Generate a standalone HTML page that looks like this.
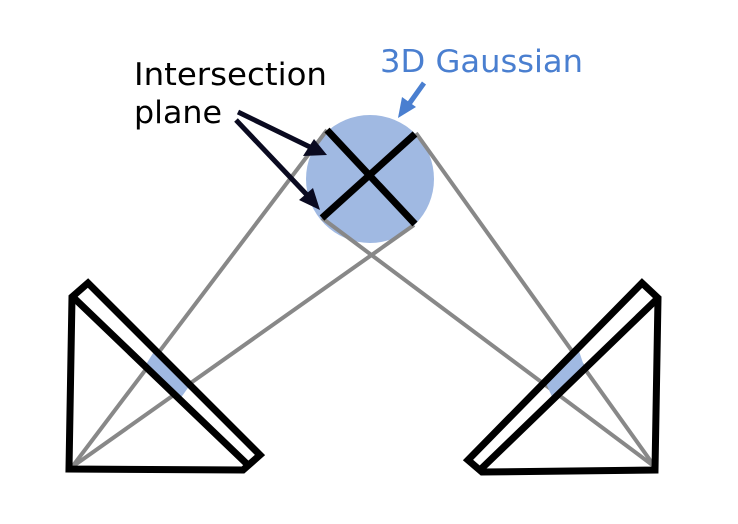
<!DOCTYPE html>
<html><head><style>body{margin:0;background:#fff}svg{display:block}</style></head><body>
<svg width="738" height="524" viewBox="0 0 738 524" xmlns="http://www.w3.org/2000/svg">
<circle cx="370" cy="179" r="64" fill="#a0b9e2"/>
<g stroke="#888" stroke-width="4" fill="none">
<line x1="72" y1="467" x2="327" y2="130"/>
<line x1="72" y1="467" x2="414" y2="225"/>
<line x1="655" y1="467" x2="416" y2="133"/>
<line x1="655" y1="467" x2="322" y2="218"/>
</g>
<polygon points="155,350 190,385 180,399 145,366" fill="#a0b9e2"/>
<polygon points="545,381 578,348 585,369 553,399" fill="#a0b9e2"/>
<g stroke="#000" stroke-width="7" fill="none" stroke-linejoin="miter">
<polygon points="72,297 88,283 260,455 243,470 69,469"/>
<line x1="74" y1="298" x2="248" y2="465"/>
<polygon points="658,298 642,283 468,460 482,472 655,470"/>
<line x1="656" y1="300" x2="480" y2="470"/>
<line x1="327" y1="130" x2="415" y2="224"/>
<line x1="322" y1="218" x2="415" y2="134"/>
</g>
<g stroke="#0a0a20" stroke-width="5">
<line x1="238" y1="112" x2="312" y2="148"/>
<line x1="236" y1="120" x2="308" y2="196"/>
</g>
<polygon points="327,155 303,156 314,139" fill="#0a0a20"/>
<polygon points="320,210 299,200 313,188" fill="#0a0a20"/>
<line x1="424" y1="83" x2="409" y2="104" stroke="#4a7fd0" stroke-width="5"/>
<polygon points="398,118 402,97 416,107" fill="#4a7fd0"/>
<g font-family="'DejaVu Sans','Liberation Sans',sans-serif" font-size="31">
<text x="134" y="85" fill="#000" textLength="193" lengthAdjust="spacingAndGlyphs">Intersection</text>
<text x="134" y="123" fill="#000" textLength="88" lengthAdjust="spacingAndGlyphs">plane</text>
<text x="380" y="72" fill="#4a7fd0" textLength="203" lengthAdjust="spacingAndGlyphs">3D Gaussian</text>
</g>
</svg>
</body></html>
